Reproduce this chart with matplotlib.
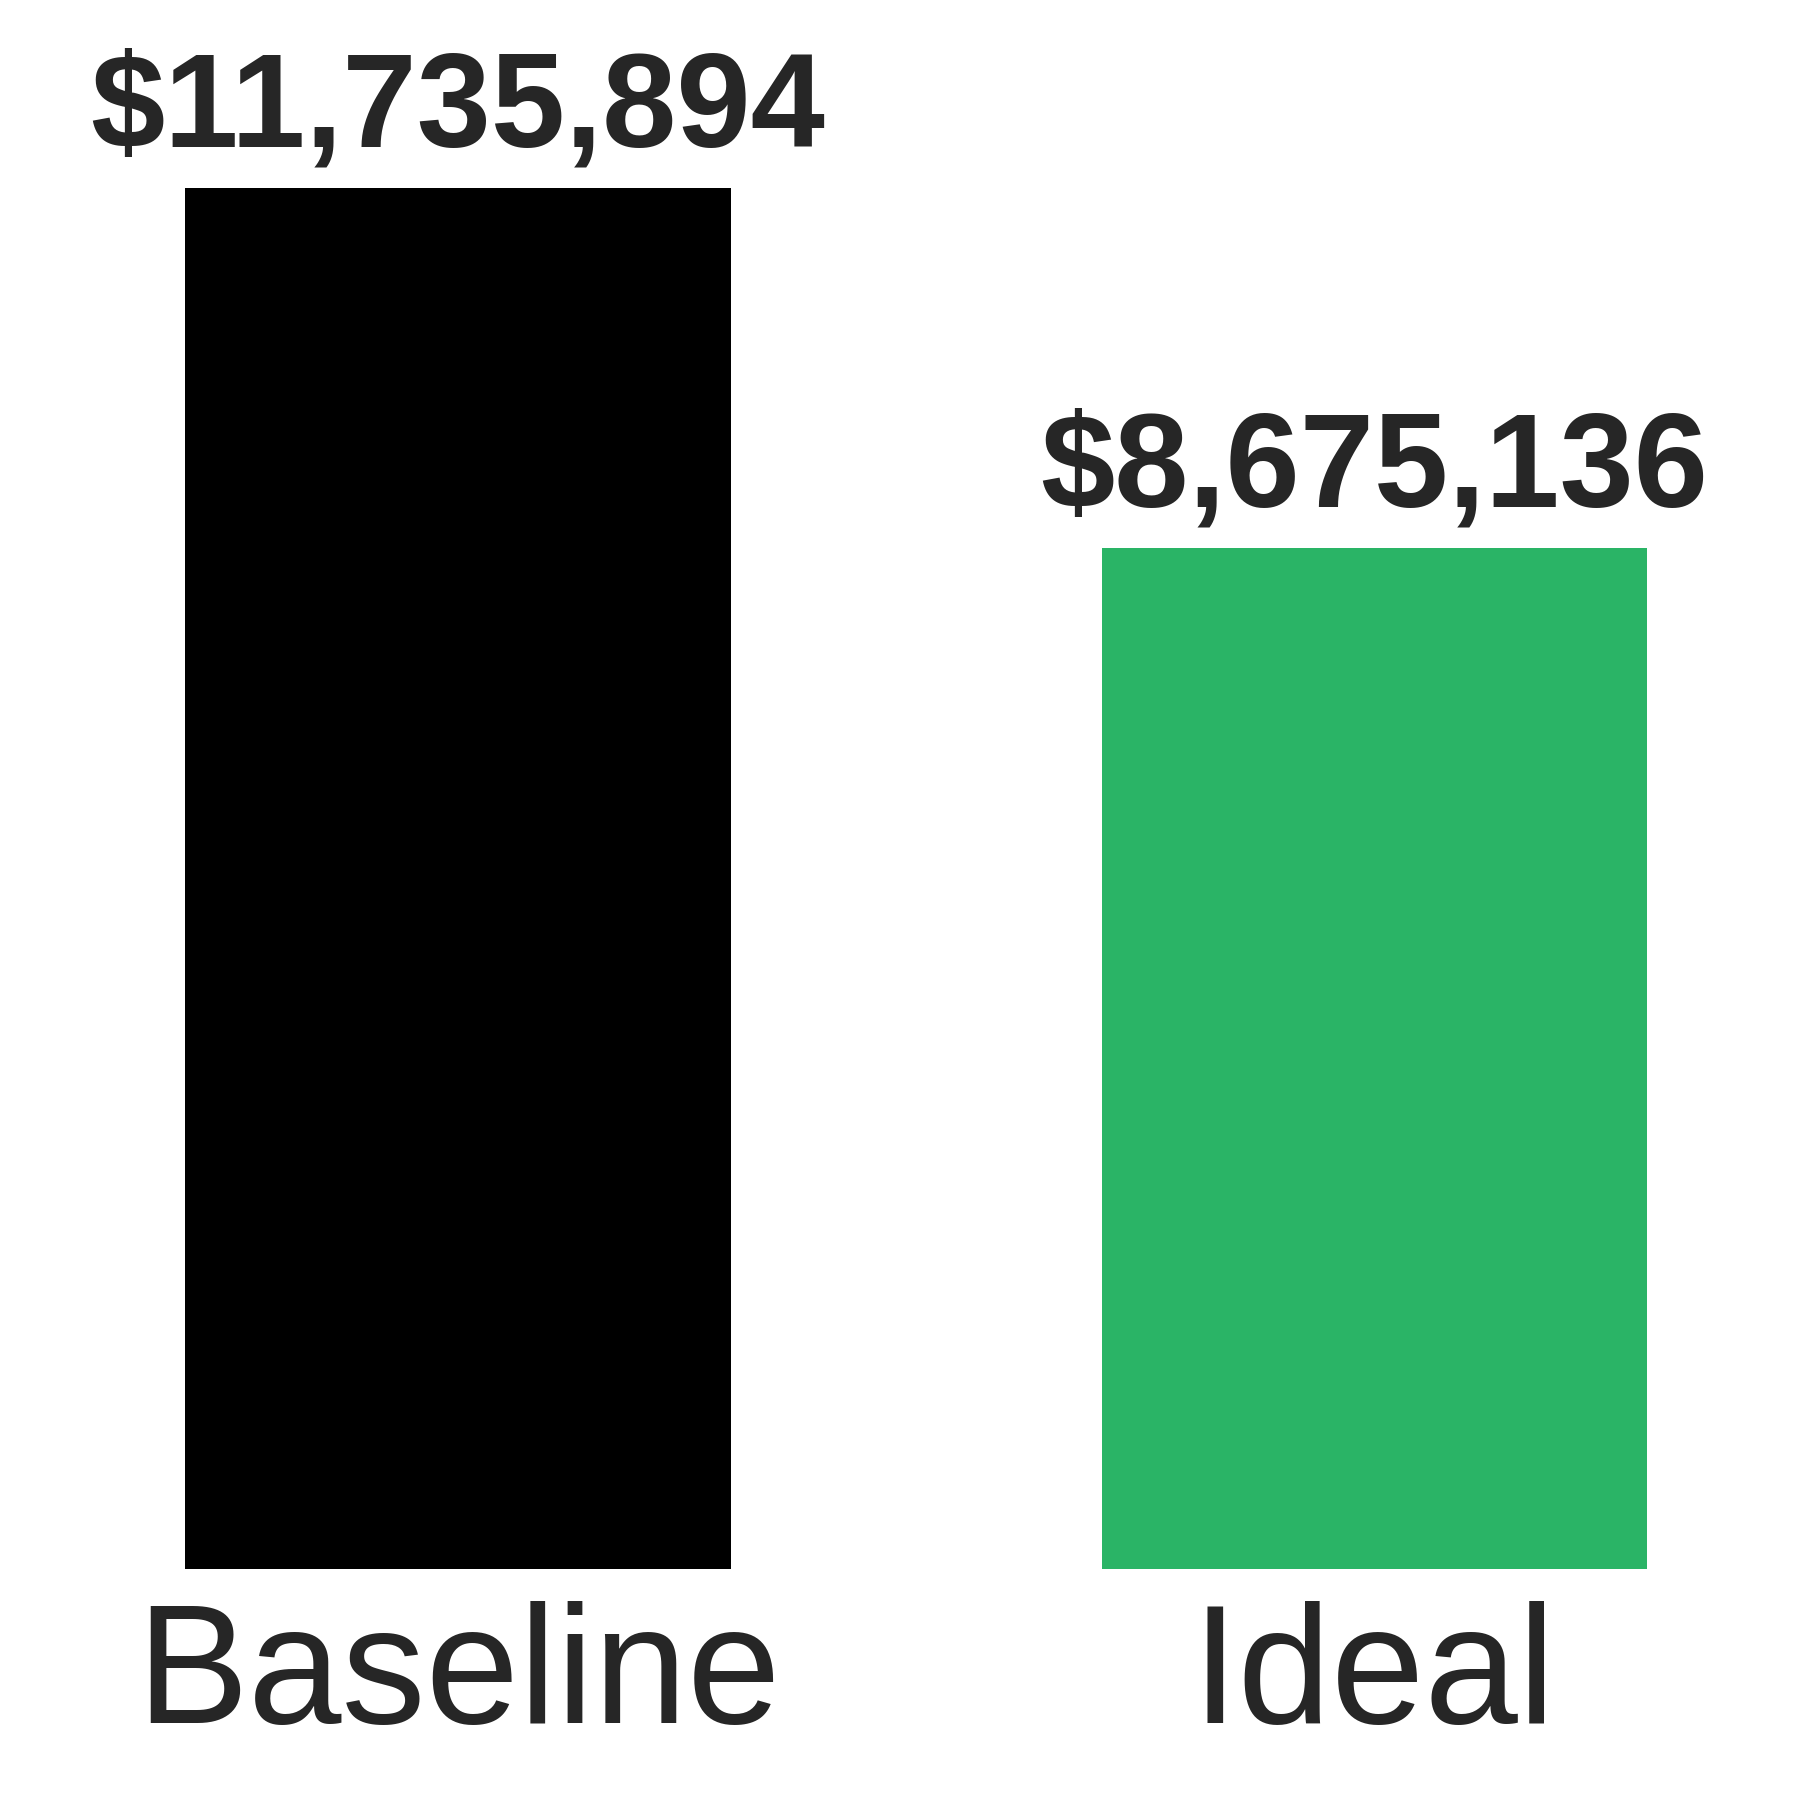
import matplotlib
matplotlib.use("Agg")
import matplotlib.pyplot as plt

# Data
categories = ["Baseline", "Ideal"]
costs = [11735894, 8675136]
bar_colors = ["#000000", "#2ab466"]

plt.rcParams['font.family'] = ['Liberation Sans', 'DejaVu Sans']
text_color = "#262626"

fig = plt.figure(figsize=(18, 18), dpi=100)
ax = fig.add_axes([0.0, 0.1283, 1.0, 0.8717])

x = list(range(len(categories)))
bars = ax.bar(x, costs, width=0.595, color=bar_colors)

for b, v in zip(bars, costs):
    ax.annotate("${:,.0f}".format(v), xy=(b.get_x() + b.get_width() / 2, v),
                xytext=(0, 10), textcoords="offset points",
                ha="center", va="bottom", fontsize=96, fontweight="bold",
                color=text_color)

ax.set_xlim(-0.5, 1.465)
ax.set_ylim(0, max(costs) * 1569 / 1381)
ax.set_xticks(x)
ax.set_xticklabels(categories, fontsize=121, color=text_color)
ax.tick_params(axis='x', length=0, pad=23)
ax.set_yticks([])
for s in ax.spines.values():
    s.set_visible(False)

fig.savefig("out.png", dpi=100)
